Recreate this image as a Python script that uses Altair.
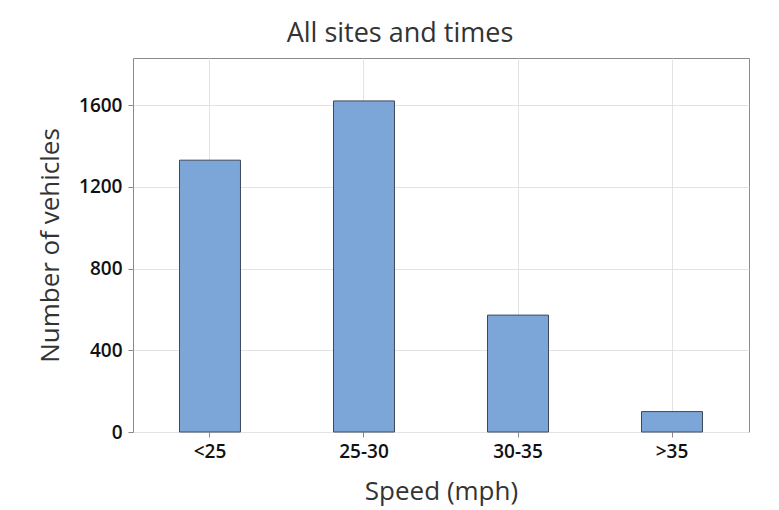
import altair as alt
import pandas as pd

categories = ["<25", "25-30", "30-35", ">35"]
counts = [1330, 1620, 572, 100]

df = pd.DataFrame({"speed": categories, "count": counts})

font = "Open Sans"

chart = alt.Chart(df).mark_bar(
    color="#7ca5d8", stroke="#3e4a5c", strokeWidth=1
).encode(
    x=alt.X("speed:N", sort=categories, title="Speed (mph)",
            scale=alt.Scale(paddingInner=0.604, paddingOuter=0.302),
            axis=alt.Axis(labelAngle=0, labelFontSize=19, labelFont=font,
                          labelFontWeight=600, labelColor="#111",
                          labelPadding=5, tickSize=5, tickColor="#888",
                          domain=False, grid=True, gridColor="#e3e3e3",
                          titleFontSize=26, titleFont=font, titleFontWeight=500,
                          titleColor="#333", titleY=59, titleBaseline="middle")),
    y=alt.Y("count:Q", title="Number of vehicles",
            scale=alt.Scale(domain=[0, 1830], nice=False),
            axis=alt.Axis(values=[0, 400, 800, 1200, 1600], format="d",
                          labelFontSize=19,
                          labelFont=font, labelFontWeight=600, labelColor="#111",
                          labelPadding=6, tickSize=5, tickColor="#888",
                          domain=False, grid=True, gridColor="#e3e3e3",
                          titleFontSize=26, titleFont=font, titleFontWeight=500,
                          titleColor="#333", titleX=-83, titleY=187,
                          titleBaseline="middle")),
).properties(
    width=616, height=374,
    title=alt.TitleParams("All sites and times", fontSize=27, font=font,
                          fontWeight=500, color="#333", offset=10, dx=-41),
    autosize=alt.AutoSizeParams(type="none"),
    padding={"left": 125, "top": 50, "right": 22, "bottom": 78},
).configure_view(stroke="#8a8a8a", strokeWidth=1)

chart.save("out.html", embed_options={"renderer": "svg", "actions": False})
